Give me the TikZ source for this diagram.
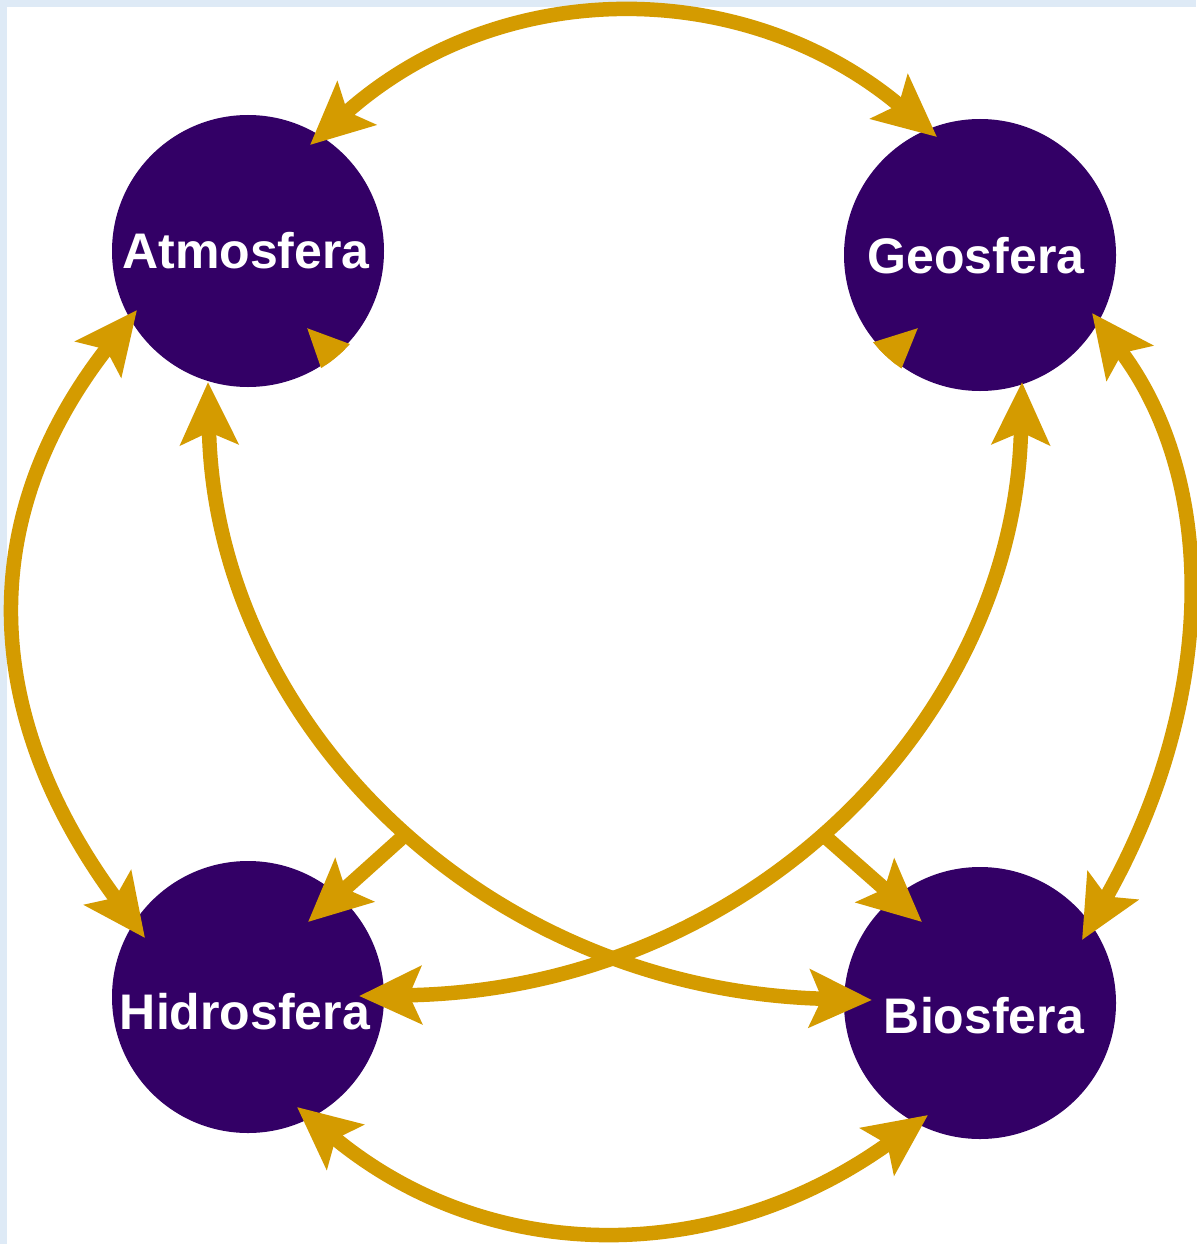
\documentclass[tikz,border=0pt]{standalone}
\usepackage{fontspec}
\setmainfont{Liberation Sans}
\usetikzlibrary{arrows.meta,calc}
\definecolor{gold}{RGB}{212,155,0}
\definecolor{deeppurple}{RGB}{51,0,102}
\definecolor{edgeblue}{RGB}{222,234,246}
\tikzset{
  sphere/.style={circle,fill=deeppurple,minimum size=272pt,inner sep=0pt},
  lbl/.style={text=white,font=\bfseries\fontsize{50}{60}\selectfont,anchor=base,inner sep=0pt},
  arr/.style={draw=gold,line width=14.5pt,
    arrows={Stealth[length=62pt,width=57pt,inset=12pt,fill=gold]-Stealth[length=62pt,width=57pt,inset=12pt,fill=gold]}},
  stub/.style={draw=gold,line width=14.5pt,
    arrows={-Stealth[length=62pt,width=57pt,inset=12pt,fill=gold]}}
}
\begin{document}
\begin{tikzpicture}[x=1pt,y=-1pt]
\useasboundingbox (0,0) rectangle (1196,1244);
\fill[white] (0,0) rectangle (1196,1244);
\fill[edgeblue] (0,0) rectangle (1196,7);
\fill[edgeblue] (0,0) rectangle (7,1244);

% spheres
\node[sphere] (atmo)  at (248,251) {};
\node[sphere] (geo)   at (980,255) {};
\node[sphere] (hidro) at (248,997) {};
\node[sphere] (bio)   at (980,1003) {};

% outer arcs
\draw[arr] ($(atmo)+(62,-106)$) .. controls (500,-25) and (745,-25) .. ($(geo)+(-43,-118)$);
\draw[arr] ($(atmo)+(-111,59)$) .. controls (-23,514) and (-23,711) .. ($(hidro)+(-103,-59)$);
\draw[arr] ($(geo)+(112,58)$) .. controls (1218,480) and (1218,700) .. ($(bio)+(102,-63)$);
\draw[arr] ($(hidro)+(49,110)$) .. controls (490,1267) and (717,1267) .. ($(bio)+(-52,112)$);

% crossing diagonals
\draw[arr] ($(atmo)+(-40,131)$) .. controls (215,720) and (480,990) .. ($(bio)+(-108,-3)$);
\draw[arr] ($(geo)+(42,127)$) .. controls (1015,720) and (750,990) .. ($(hidro)+(111,-1)$);

% stubs from centre
\coordinate (sh) at (406,834);
\coordinate (sb) at (820,832);
\draw[stub] (sh) -- ($(hidro)+(60,-75)$);
\draw[stub] (sb) -- ($(bio)+(-58,-81)$);
\coordinate (sa) at (356,378);
\coordinate (sg) at (866,376);
\begin{scope}
  \clip (atmo) circle (138);
  \draw[stub] (sa) -- ($(atmo)+(59,77)$);
\end{scope}
\begin{scope}
  \clip (geo) circle (138);
  \draw[stub] (sg) -- ($(geo)+(-62,73)$);
\end{scope}

% labels
\node[lbl] (latmo)  at (246,268)  {Atmosfera};
\node[lbl] (lgeo)   at (976,273)  {Geosfera};
\node[lbl] (lhidro) at (245,1029) {Hidrosfera};
\node[lbl] (lbio)   at (984,1033) {Biosfera};
\end{tikzpicture}
\end{document}
